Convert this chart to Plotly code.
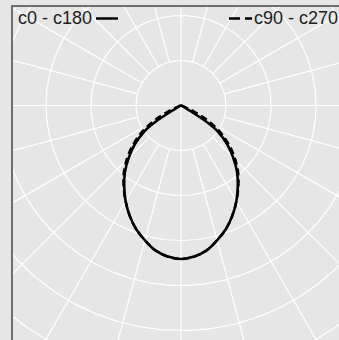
import numpy as np
import plotly.graph_objects as go

# ---- data (gamma from nadir in degrees, intensity in cd/klm) ----
gamma_c0_c180 = [0, 5, 10, 15, 20, 25, 30, 35, 40, 45, 50, 55, 57.5, 60, 62.5, 65, 70, 90]
intensity_c0_c180 = [341, 337, 327, 310, 292, 270, 246, 220, 194, 164, 134, 98, 67, 18, 7, 2, 0, 0]

gamma_c90_c270 = [0, 5, 10, 15, 20, 25, 30, 35, 40, 45, 50, 55, 57.5, 60, 62.5, 65, 67.5, 70, 75, 90]
intensity_c90_c270 = [341, 337, 327, 310, 292, 270, 246, 222, 198, 171, 142, 111, 93, 73, 53, 33, 16, 6, 1, 0]

ring_values = [100, 200, 300, 400, 500, 600, 700, 800]
spoke_angles = list(range(0, 360, 15))
legend_labels = ["c0 - c180", "c90 - c270"]

# ---- layout geometry (pixels) ----
W, H = 339, 340
L, T = 13, 7
CX, CY = 181, 105.5
K = 0.45  # px per cd/klm
BG = "#e6e6e6"
FRAME = "#6e6e6e"

xr = [(L - CX) / K, (W - CX) / K]
yr = [-(H - CY) / K, (CY - T) / K]

fig = go.Figure()

# grid circles
th = np.linspace(0, 2 * np.pi, 361)
gx, gy = [], []
for r in ring_values:
    gx += list(r * np.cos(th)) + [None]
    gy += list(r * np.sin(th)) + [None]
# spokes: start at first ring, the main axes go through the centre
for a in spoke_angles:
    rad = np.deg2rad(a)
    r0 = 0 if a % 90 == 0 else ring_values[0]
    r1 = 2000
    gx += [r0 * np.sin(rad), r1 * np.sin(rad), None]
    gy += [-r0 * np.cos(rad), -r1 * np.cos(rad), None]
fig.add_trace(go.Scatter(x=gx, y=gy, mode="lines", line=dict(color="white", width=1.2),
                         hoverinfo="skip", showlegend=False))


def curve(gammas, vals):
    g = np.deg2rad(np.array(gammas, dtype=float))
    v = np.array(vals, dtype=float)
    xl = -v * np.sin(g)
    yl = -v * np.cos(g)
    xr_ = v * np.sin(g)
    return (list(xl[::-1]) + list(xr_[1:]), list(yl[::-1]) + list(yl[1:]))


x1, y1 = curve(gamma_c90_c270, intensity_c90_c270)
fig.add_trace(go.Scatter(x=x1, y=y1, mode="lines", line=dict(color="black", width=2.5, dash="7px,4px"),
                         line_shape="spline", showlegend=False, name=legend_labels[1]))
x0, y0 = curve(gamma_c0_c180, intensity_c0_c180)
fig.add_trace(go.Scatter(x=x0, y=y0, mode="lines", line=dict(color="black", width=2.6),
                         line_shape="spline", showlegend=False, name=legend_labels[0]))


def px_x(p):
    return (p - L) / (W - L)


def px_y(p):
    return (H - p) / (H - T)


font = dict(family="Liberation Sans, Arial", size=18, color="#222222")
ty = 18
fig.add_annotation(text=legend_labels[0], xref="paper", yref="paper", x=px_x(16), y=px_y(ty),
                   xanchor="left", yanchor="middle", showarrow=False, font=font)
fig.add_annotation(text=legend_labels[1], xref="paper", yref="paper", x=px_x(252), y=px_y(ty),
                   xanchor="left", yanchor="middle", showarrow=False, font=font)
fig.add_shape(type="line", xref="paper", yref="paper", x0=px_x(96), x1=px_x(118), y0=px_y(ty + 0.5),
              y1=px_y(ty + 0.5), line=dict(color="black", width=2.5))
fig.add_shape(type="line", xref="paper", yref="paper", x0=px_x(229), x1=px_x(252), y0=px_y(ty + 0.5),
              y1=px_y(ty + 0.5), line=dict(color="black", width=2.5, dash="11px,5px"))

fig.update_layout(
    width=W, height=H,
    margin=dict(l=L, r=0, t=T, b=0, pad=0),
    paper_bgcolor=BG, plot_bgcolor=BG,
    xaxis=dict(range=xr, showgrid=False, zeroline=False, showticklabels=False, ticks="",
               side="top", showline=True, linecolor=FRAME, linewidth=2, fixedrange=True),
    yaxis=dict(range=yr, showgrid=False, zeroline=False, showticklabels=False, ticks="",
               showline=True, linecolor=FRAME, linewidth=2, fixedrange=True),
    showlegend=False,
)

fig.write_html(
    "out.html",
    config={"displayModeBar": False},
    post_script=(
        "document.body.style.margin='0';document.body.style.overflow='hidden';"
        "document.documentElement.style.overflow='hidden';"
        f"document.body.style.background='{BG}';"
    ),
)
